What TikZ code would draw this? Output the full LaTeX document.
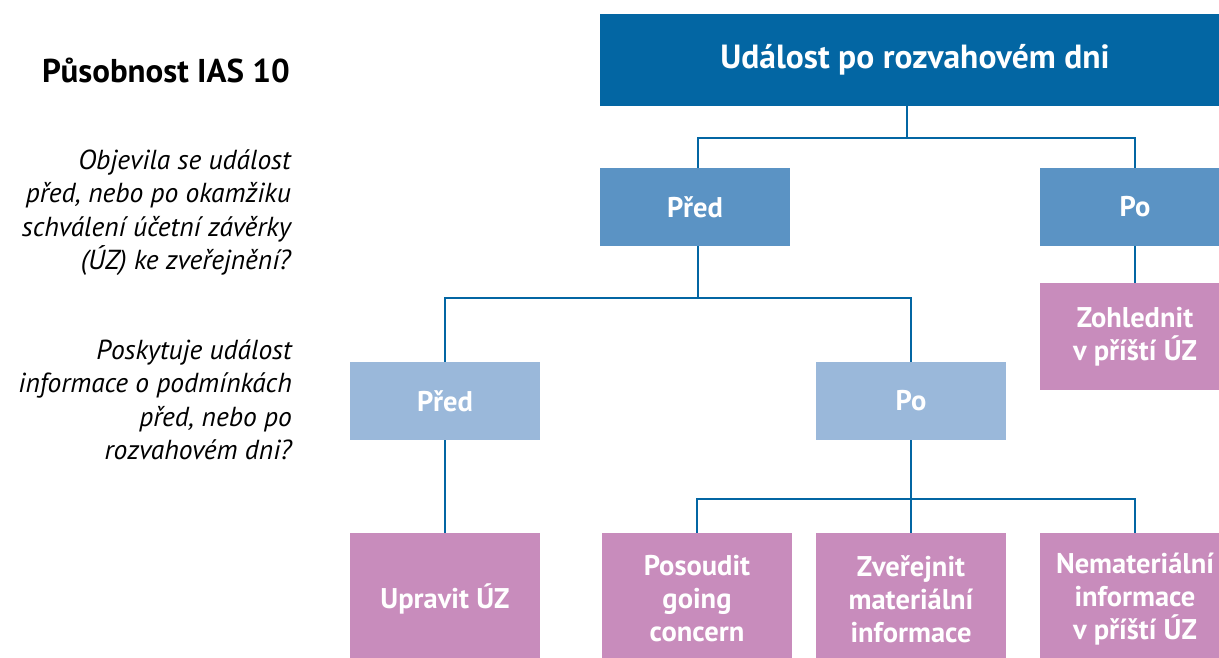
\documentclass[tikz,border=0pt]{standalone}
\usepackage{fontspec}
\setmainfont{PT Sans}
\usetikzlibrary{positioning}
\definecolor{ifrsdark}{HTML}{0366A3}
\definecolor{ifrsmid}{HTML}{5B93C4}
\definecolor{ifrslight}{HTML}{9AB8DA}
\definecolor{ifrspink}{HTML}{C88CBC}
\tikzset{
  box/.style={fill=#1, text=white, font=\bfseries\fontsize{28.5}{33}\selectfont,
    align=center, minimum width=190pt, minimum height=78pt, inner sep=0pt},
  link/.style={draw=ifrsdark, line width=2pt},
  question/.style={font=\itshape\fontsize{27.5}{33.5}\selectfont, align=right,
    anchor=north east, inner sep=0pt}
}

\begin{document}
\begin{tikzpicture}[x=1pt,y=-1pt]
\useasboundingbox (0,0) rectangle (1219,657);
\clip (0,0) rectangle (1219,657);

% left column
\node[font=\bfseries\fontsize{33}{36}\selectfont, anchor=base east, inner sep=0pt] (scope) at (290,82) {Působnost IAS 10};
\node[question] (qfirst) at (291,149) {Objevila se událost\\před, nebo po okamžiku\\schválení účetní závěrky\\(ÚZ) ke zveřejnění?};
\node[question] (qsecond) at (292,339) {Poskytuje událost\\informace o podmínkách\\před, nebo po\\rozvahovém dni?};

% boxes
\node[box=ifrsdark, minimum width=630pt, minimum height=92pt, font=\bfseries\fontsize{33.5}{36}\selectfont] (event) at (915,60) {Událost po rozvahovém dni};
\node[box=ifrsmid] (before) at (695,207) {Před};
\node[box=ifrsmid] (after) at (1135,207) {Po};
\node[box=ifrspink, minimum height=107pt] (next) at (1135,336.5) {Zohlednit\\v příští ÚZ};
\node[box=ifrslight] (cbefore) at (445,401) {Před};
\node[box=ifrslight] (cafter) at (911,401) {Po};
\node[box=ifrspink, minimum height=132pt] (adjust) at (445,599) {Upravit ÚZ};
\node[box=ifrspink, minimum height=132pt] (going) at (697,599) {Posoudit\\going\\concern};
\node[box=ifrspink, minimum height=132pt] (disclose) at (911,599) {Zveřejnit\\materiální\\informace};
\node[box=ifrspink, minimum height=132pt] (nonmat) at (1135,599) {Nemateriální\\informace\\v příští ÚZ};

% connectors
\coordinate (split) at (907,138);
\draw[link] ([xshift=-8pt]event.south) -- (split);
\draw[link] (split) -| ([xshift=3pt]before.north);
\draw[link] (split) -| (after.north);
\draw[link] (after) -- (next);
\coordinate (csplit) at (698,298);
\draw[link] ([xshift=3pt]before.south) -- (csplit);
\draw[link] (csplit) -| (cbefore.north);
\draw[link] (csplit) -| (cafter.north);
\draw[link] (cbefore) -- (adjust);
\coordinate (osplit) at (911,499);
\draw[link] (cafter.south) -- (osplit);
\draw[link] (osplit) -| (going.north);
\draw[link] (osplit) -| (nonmat.north);
\draw[link] (osplit) -- (disclose.north);
\end{tikzpicture}
\end{document}
